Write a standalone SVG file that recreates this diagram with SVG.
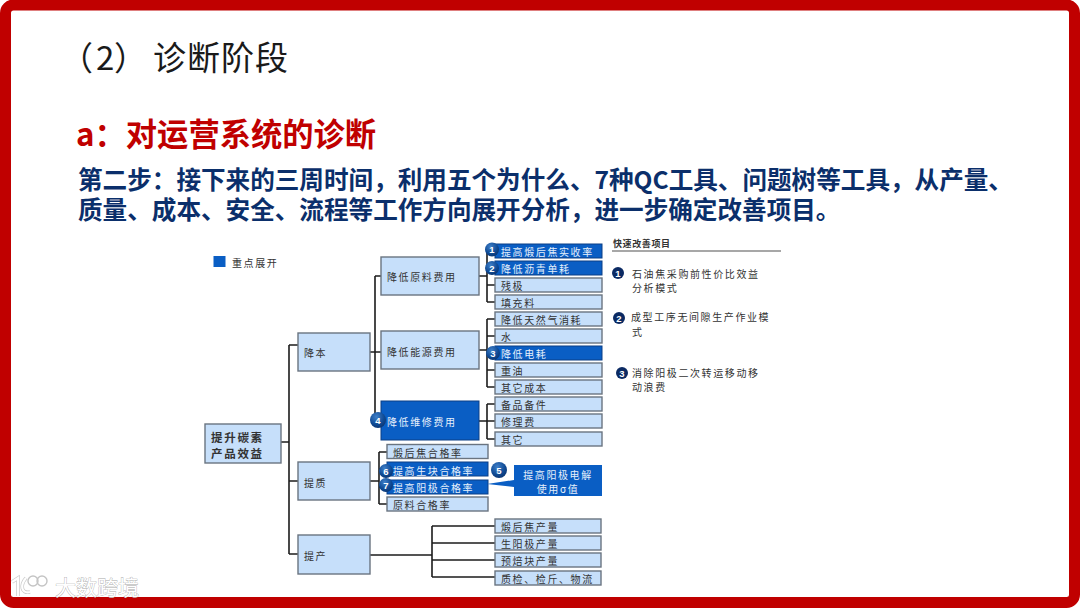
<svg xmlns="http://www.w3.org/2000/svg" width="1080" height="608" viewBox="0 0 1080 608">
<style>
text{font-family:"Noto Sans CJK SC","Noto Sans",sans-serif}
.n{fill:#c6dffa;stroke:#6a7480;stroke-width:1.4}
.d{fill:#0a5ec4;stroke:#0b3f86;stroke-width:1}
.t{font-size:10px;letter-spacing:1.6px;fill:#333;dominant-baseline:central}
.w{font-size:10px;letter-spacing:1.6px;fill:#e6f0fb;dominant-baseline:central}
.b{font-size:9.5px;font-weight:700;fill:#fff;text-anchor:middle;dominant-baseline:central;font-family:"Liberation Sans",sans-serif}
.c{fill:none;stroke:#1c1c1c;stroke-width:1.6}
.h{font-size:24.600px;font-weight:700;fill:#0b2f6b}
</style>
<defs>
<radialGradient id="g" cx="0.4" cy="0.3" r="0.8"><stop offset="0" stop-color="#3f7fc8"/><stop offset="0.6" stop-color="#0f4a94"/><stop offset="1" stop-color="#0a2f66"/></radialGradient>
</defs>
<rect width="1080" height="608" fill="#fff"/>
<rect id="frame" x="5.500" y="5" width="1069" height="597.500" rx="8" fill="#fff" stroke="#c00000" stroke-width="11"/>
<text x="60 96 114 153 187 221 255" y="70" font-size="33" fill="#1a1a1a">（2）诊断阶段</text>
<text x="76" y="146" font-size="31.300" font-weight="700" fill="#c00000">a：对运营系统的诊断</text>
<text class="h" x="78" y="189">第二步：接下来的三周时间，利用五个为什么、7种QC工具、问题树等工具，从产量、</text>
<text class="h" x="78" y="219">质量、成本、安全、流程等工作方向展开分析，进一步确定改善项目。</text>

<g id="connectors" class="c">
<path d="M281 442H289M289 345V554M289 345H298M289 481H298M289 554H298"/>
<path d="M370 352H381M375 276V420M375 276H381M375 420H381"/>
<path d="M479 276H487M487 251V302M487 251H495M487 268H495M487 285H495M487 302H495"/>
<path d="M479 350H487M487 319V387M487 319H495M487 336H495M487 353H495M487 370H495M487 387H495"/>
<path d="M479 421H487M487 404V439M487 404H495M487 421H495M487 439H495"/>
<path d="M370 481H379M379 452V504M379 452H387M379 469H387M379 487H387M379 504H387"/>
<path d="M370 555H432M432 526V577M432 526H495M432 543H495M432 560H495M432 577H495"/>
</g>

<g id="legend"><rect x="213.500" y="256" width="12" height="11" fill="#0a5ec4"/><text class="t" x="232" y="262">重点展开</text></g>

<g id="root"><rect class="n" x="205" y="424" width="76" height="39"/><text x="211" y="437" font-size="11.500" font-weight="700" letter-spacing="1.700" fill="#333" dominant-baseline="central">提升碳素</text><text x="211" y="453" font-size="11.500" font-weight="700" letter-spacing="1.700" fill="#333" dominant-baseline="central">产品效益</text></g>

<g id="n-jiangben"><rect class="n" x="298" y="333" width="72" height="38"/><text class="t" x="304" y="352">降本</text></g>
<g id="n-tizhi"><rect class="n" x="298" y="462" width="72" height="38"/><text class="t" x="304" y="482">提质</text></g>
<g id="n-tichan"><rect class="n" x="298" y="535" width="72" height="39"/><text class="t" x="304" y="555">提产</text></g>

<g id="n-yuanliao"><rect class="n" x="381" y="257" width="98" height="38"/><text class="t" x="387" y="276">降低原料费用</text></g>
<g id="n-nengyuan"><rect class="n" x="381" y="331" width="98" height="38"/><text class="t" x="387" y="351">降低能源费用</text></g>
<g id="n-weixiu"><rect class="d" x="381" y="401" width="98" height="39"/><text class="w" x="387" y="421">降低维修费用</text><circle cx="378" cy="420" r="8" fill="url(#g)"/><text class="b" x="378" y="420">4</text></g>

<g id="l1"><rect class="d" x="495" y="244" width="107" height="14"/><text class="w" x="501" y="251">提高煅后焦实收率</text><circle cx="492" cy="249.500" r="7" fill="url(#g)"/><text class="b" x="492" y="249.500">1</text></g>
<g id="l2"><rect class="d" x="495" y="261" width="107" height="14"/><text class="w" x="501" y="268">降低沥青单耗</text><circle cx="492" cy="268" r="7" fill="url(#g)"/><text class="b" x="492" y="268">2</text></g>
<g id="l3"><rect class="n" x="495" y="278" width="107" height="14"/><text class="t" x="501" y="285">残极</text></g>
<g id="l4"><rect class="n" x="495" y="295" width="107" height="14"/><text class="t" x="501" y="302">填充料</text></g>
<g id="l5"><rect class="n" x="495" y="312" width="107" height="14"/><text class="t" x="501" y="319">降低天然气消耗</text></g>
<g id="l6"><rect class="n" x="495" y="329" width="107" height="14"/><text class="t" x="501" y="336">水</text></g>
<g id="l7"><rect class="d" x="495" y="346" width="107" height="14"/><text class="w" x="501" y="353">降低电耗</text><circle cx="493" cy="353" r="7" fill="url(#g)"/><text class="b" x="493" y="353">3</text></g>
<g id="l8"><rect class="n" x="495" y="363" width="107" height="14"/><text class="t" x="501" y="370">重油</text></g>
<g id="l9"><rect class="n" x="495" y="380" width="107" height="14"/><text class="t" x="501" y="387">其它成本</text></g>
<g id="l10"><rect class="n" x="495" y="397" width="107" height="14"/><text class="t" x="501" y="404">备品备件</text></g>
<g id="l11"><rect class="n" x="495" y="414" width="107" height="14"/><text class="t" x="501" y="421">修理费</text></g>
<g id="l12"><rect class="n" x="495" y="432" width="107" height="14"/><text class="t" x="501" y="439">其它</text></g>

<g id="q1"><rect class="n" x="387" y="444.500" width="101" height="14"/><text class="t" x="393" y="452">煅后焦合格率</text></g>
<g id="q2"><rect class="d" x="387" y="462" width="101" height="14"/><text class="w" x="393" y="470">提高生块合格率</text><circle cx="386" cy="471" r="7" fill="url(#g)"/><text class="b" x="386" y="471">6</text></g>
<g id="q3"><rect class="d" x="387" y="480" width="101" height="14"/><text class="w" x="393" y="487">提高阳极合格率</text><circle cx="386" cy="485" r="7" fill="url(#g)"/><text class="b" x="386" y="485">7</text></g>
<g id="q4"><rect class="n" x="387" y="497" width="101" height="14"/><text class="t" x="393" y="504">原料合格率</text></g>

<g id="callout"><path d="M514 465H602V496H514V487L487 484L514 480Z" fill="#0a5ec4"/><text class="w" x="558" y="474" text-anchor="middle">提高阳极电解</text><text class="w" x="558" y="488" text-anchor="middle">使用σ值</text><circle cx="499" cy="470" r="8" fill="url(#g)"/><text class="b" x="499" y="470">5</text></g>

<g id="p1"><rect class="n" x="495" y="519" width="106" height="14"/><text class="t" x="501" y="526">煅后焦产量</text></g>
<g id="p2"><rect class="n" x="495" y="536" width="106" height="14"/><text class="t" x="501" y="543">生阳极产量</text></g>
<g id="p3"><rect class="n" x="495" y="553" width="106" height="14"/><text class="t" x="501" y="560">预焙块产量</text></g>
<g id="p4"><rect class="n" x="495" y="571" width="106" height="14"/><text class="t" x="501" y="578">质检、检斤、物流</text></g>

<g id="quick">
<text x="613" y="243" font-size="9" font-weight="700" letter-spacing="0.600" fill="#333" dominant-baseline="central">快速改善项目</text>
<path d="M612 251H781" stroke="#8a8a8a" stroke-width="1.500"/>
<circle cx="618" cy="273" r="6" fill="#0b2a63"/><text class="b" x="618" y="273">1</text>
<text class="t" x="632" y="273">石油焦采购前性价比效益</text><text class="t" x="632" y="287">分析模式</text>
<circle cx="619" cy="318" r="6" fill="#0b2a63"/><text class="b" x="619" y="318">2</text>
<text class="t" x="631" y="316">成型工序无间隙生产作业模</text><text class="t" x="632" y="331">式</text>
<circle cx="622" cy="373" r="6" fill="#0b2a63"/><text class="b" x="622" y="373">3</text>
<text class="t" x="632" y="372">消除阳极二次转运移动移</text><text class="t" x="632" y="386">动浪费</text>
</g>

<g id="watermark">
<path d="M12 582L18 578V596M26 578C20 585 21 594 30 592" fill="none" stroke="#a8a8a8" stroke-width="3.600" opacity="0.600"/>
<path d="M12 582L18 578V596M26 578C20 585 21 594 30 592" fill="none" stroke="#fff" stroke-width="2.200"/>
<circle cx="33" cy="581" r="5" fill="none" stroke="#c4c4c4" stroke-width="1.400"/><circle cx="42" cy="581" r="5" fill="none" stroke="#c4c4c4" stroke-width="1.400"/>
<text x="55" y="595" font-size="21" fill="#fff" stroke="#a8a8a8" stroke-width="0.700" paint-order="stroke">大数跨境</text>
</g>
</svg>
